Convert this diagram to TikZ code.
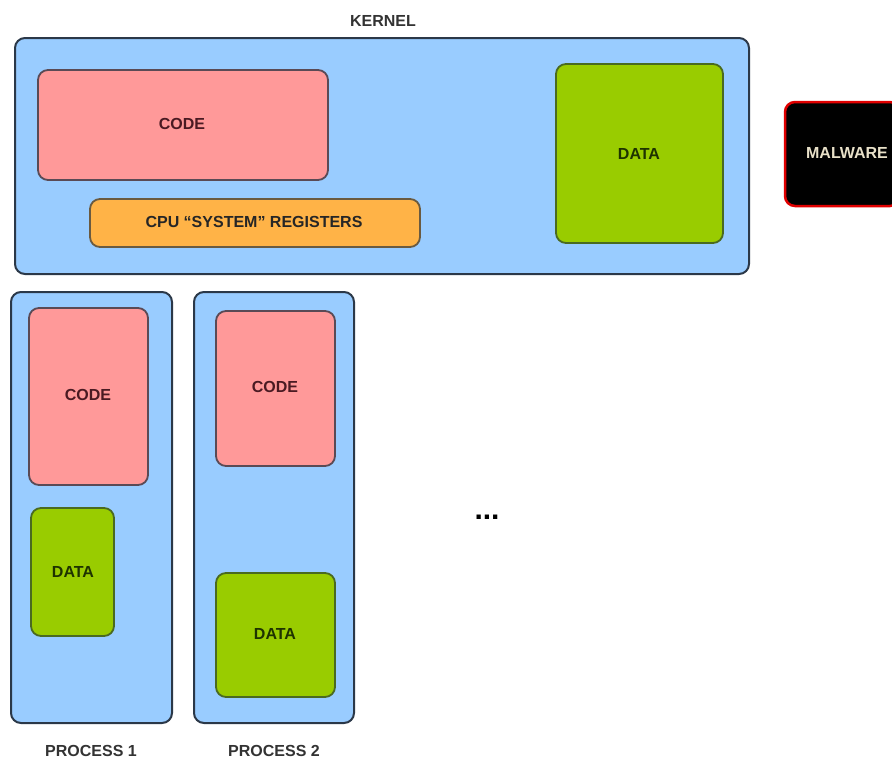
\documentclass[tikz,border=0pt]{standalone}
\usepackage{fontspec}
\setmainfont{Liberation Sans}
\begin{document}
\begin{tikzpicture}[x=1pt,y=-1pt,
  lbl/.style={font=\fontsize{16}{18}\selectfont\bfseries, text=black!80},
  blk/.style={draw=black!80, line width=2pt, rounded corners=10pt},
  bluebox/.style={blk, fill=blue1, draw=border1},
  codebox/.style={blk, fill=pink1, draw=pinkborder, line width=1.8pt},
  databox/.style={blk, fill=green1, draw=greenborder, line width=1.8pt},
  regbox/.style={blk, fill=orange1, draw=orangeborder, line width=1.8pt},
  codetxt/.style={lbl, text=codetext},
  datatxt/.style={lbl, text=datatext}]
\definecolor{blue1}{HTML}{99CCFF}
\definecolor{border1}{HTML}{2B3848}
\definecolor{pink1}{HTML}{FF9999}
\definecolor{pinkborder}{HTML}{5A4A55}
\definecolor{green1}{HTML}{99CC00}
\definecolor{greenborder}{HTML}{4A6A20}
\definecolor{orange1}{HTML}{FFB347}
\definecolor{orangeborder}{HTML}{6A5A40}
\definecolor{codetext}{HTML}{4A1A22}
\definecolor{datatext}{HTML}{1E3300}
\definecolor{malred}{HTML}{E00000}
\definecolor{maltext}{HTML}{E8E0C8}
\clip (0,0) rectangle (892,763);
\fill[white] (0,0) rectangle (892,763);
% kernel
\draw[bluebox] (15,38) rectangle (749,274);
\node[lbl] (kernel) at (383,21) {KERNEL};
\draw[codebox] (38,70) rectangle (328,180);
\node[codetxt] (kcode) at (182,124) {CODE};
\draw[regbox] (90,199) rectangle (420,247);
\node[lbl, text=black!85] (kreg) at (254,222) {CPU \char"201C SYSTEM\char"201D{} REGISTERS};
\draw[databox] (556,64) rectangle (723,243);
\node[datatxt] (kdata) at (639,154) {DATA};
% malware
\draw[blk, fill=black, draw=malred, line width=2.5pt] (785,102) rectangle (900,206);
\node[lbl, text=maltext] (mal) at (847,153) {MALWARE};
% process 1
\draw[bluebox] (11,292) rectangle (172,723);
\draw[codebox] (29,308) rectangle (148,485);
\node[codetxt] (p1code) at (88,395) {CODE};
\draw[databox] (31,508) rectangle (114,636);
\node[datatxt] (p1data) at (73,572) {DATA};
\node[lbl] (p1) at (91,751) {PROCESS 1};
% process 2
\draw[bluebox] (194,292) rectangle (354,723);
\draw[codebox] (216,311) rectangle (335,466);
\node[codetxt] (p2code) at (275,387) {CODE};
\draw[databox] (216,573) rectangle (335,697);
\node[datatxt] (p2data) at (275,634) {DATA};
\node[lbl] (p2) at (274,751) {PROCESS 2};
% dots
\node[font=\fontsize{30}{32}\selectfont\bfseries, anchor=base, inner sep=0pt] (dots) at (487,519) {...};
\end{tikzpicture}
\end{document}
